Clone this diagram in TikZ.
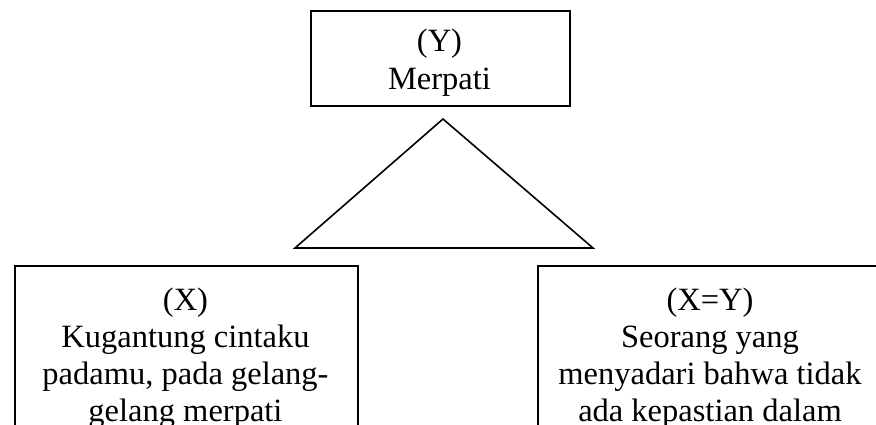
\documentclass[tikz,border=0pt]{standalone}
\usepackage{fontspec}
\setmainfont{Liberation Serif}
\begin{document}
\begin{tikzpicture}[x=1pt,y=-1pt,
  frame/.style={draw=black, line width=1.6pt, inner sep=0pt, anchor=north west},
  label/.style={inner sep=0pt, align=center, anchor=north,
    font=\fontsize{32.5}{37}\selectfont}]
  \useasboundingbox (0,0) rectangle (876,425);
  \clip (0,0) rectangle (876,425);

  % top box
  \node[frame, minimum width=259pt, minimum height=95pt] (ybox) at (310,10) {};
  \node[label] (ytext) at (439.5,28.4) {(Y)\\[1pt]Merpati};

  % triangle between the levels
  \coordinate (apex) at (443,119);
  \coordinate (bl) at (295,248);
  \coordinate (br) at (593,248);
  \draw[line width=1.6pt, line join=miter] (apex) -- (bl) -- (br) -- cycle;

  % lower boxes
  \node[frame, minimum width=343pt, minimum height=200pt] (xbox) at (14,265) {};
  \node[label] (xtext) at (185.5,287.4)
    {(X)\\Kugantung cintaku\\padamu, pada gelang-\\gelang merpati};

  \node[frame, minimum width=346pt, minimum height=200pt] (xybox) at (537,265) {};
  \node[label] (xytext) at (710,287.4)
    {(X=Y)\\Seorang yang\\menyadari bahwa tidak\\ada kepastian dalam};
\end{tikzpicture}
\end{document}
